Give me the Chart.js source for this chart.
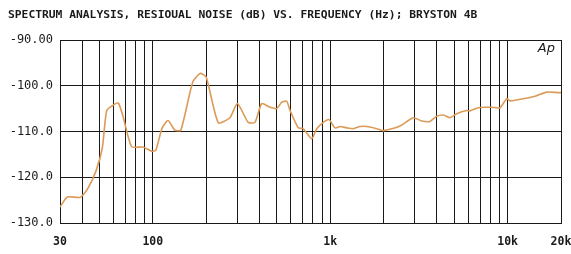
<!DOCTYPE html>
<html>
<head>
<meta charset="utf-8">
<script src="https://cdn.jsdelivr.net/npm/chart.js@4/dist/chart.umd.min.js"></script>
<style>
    html, body { margin: 0; padding: 0; background: #fff; }
    #wrap { width: 571px; height: 254px; position: relative; }
</style>
</head>
<body>
<div id="wrap"><canvas id="noise-chart"></canvas></div>
<script>
(function() {
    'use strict';

    const TITLE = 'SPECTRUM ANALYSIS, RESIOUAL NOISE (dB) VS. FREQUENCY (Hz); BRYSTON 4B';

    // frequency (Hz) and residual noise (dB)
    const freqs = [30, 33, 39, 43, 48, 52, 55, 60, 64, 68, 76, 88, 99, 104, 113, 122, 133, 144,
        168, 185, 200, 234, 272, 300, 345, 377, 411, 458, 499, 534, 569, 594, 661, 705, 787,
        840, 915, 985, 1065, 1136, 1240, 1350, 1473, 1677, 1910, 1993, 2223, 2476, 2940, 3280,
        3654, 3975, 4344, 4738, 5166, 5886, 6143, 6840, 7625, 8145, 9060, 9888, 10320, 12027,
        14280, 16620, 19320, 20000];
    const noiseDb = [-126.5, -124.3, -124.4, -122.5, -118.5, -113.5, -105.4, -104.2, -103.8, -106.7,
        -113.3, -113.4, -114.3, -114.1, -109.2, -107.6, -109.7, -109.7, -99.2, -97.3, -98.1,
        -108.1, -107.0, -103.9, -108.0, -108.0, -103.9, -104.7, -105.0, -103.6, -103.4, -105.4,
        -109.2, -109.4, -111.6, -109.4, -108.0, -107.4, -109.2, -108.9, -109.2, -109.4, -108.9,
        -109.0, -109.6, -109.8, -109.4, -108.8, -107.0, -107.7, -107.8, -106.7, -106.4, -107.0,
        -106.1, -105.4, -105.5, -104.8, -104.7, -104.7, -104.8, -102.8, -103.3, -102.9, -102.3,
        -101.4, -101.5, -101.5];

    // grid positions on the log axis, and which of them get a label
    const xGrid = [30, 40, 50, 60, 70, 80, 90, 100, 200, 300, 400, 500, 600, 700, 800, 900,
        1000, 2000, 3000, 4000, 5000, 6000, 7000, 8000, 9000, 10000, 20000];
    const xTickLabels = { 30: '30', 100: '100', 1000: '1k', 10000: '10k', 20000: '20k' };
    const yTicks = [-130, -120, -110, -100, -90];
    const yTickLabels = ['-130.0', '-120.0', '-110.0', '-100.0', '-90.00'];

    const INK = '#1a1a1a';
    const TRACE = '#dc9a56';

    const decorations = {
        id: 'decorations',
        afterDraw(chart) {
            const ctx = chart.ctx;
            const area = chart.chartArea;
            ctx.save();
            ctx.fillStyle = INK;
            ctx.textBaseline = 'middle';
            ctx.textAlign = 'left';
            ctx.font = 'bold 11.3px "DejaVu Sans Mono"';
            ctx.fillText(TITLE, 8, 15);
            ctx.font = 'italic 13px "DejaVu Sans"';
            ctx.textAlign = 'right';
            ctx.fillText('Ap', area.right - 6, area.top + 9);
            ctx.restore();
        },
    };

    function initChart() {
        const canvas = document.getElementById('noise-chart');
        const points = freqs.map((f, i) => ({ x: f, y: noiseDb[i] }));

        new Chart(canvas, {
            type: 'line',
            data: {
                datasets: [{
                    data: points,
                    borderColor: TRACE,
                    borderWidth: 1.6,
                    pointRadius: 0,
                    tension: 0.2,
                    fill: false,
                }],
            },
            options: {
                responsive: true,
                maintainAspectRatio: false,
                animation: false,
                layout: { padding: { top: 40, right: 10, left: 0, bottom: 0 } },
                plugins: { legend: { display: false }, tooltip: { enabled: false } },
                scales: {
                    x: {
                        type: 'logarithmic',
                        min: 30,
                        max: 20000,
                        afterBuildTicks: scale => {
                            scale.ticks = xGrid.map(v => ({ value: v }));
                        },
                        afterFit: scale => {
                            scale.height = 31;
                            scale.paddingLeft = 0;
                            scale.paddingRight = 0;
                        },
                        ticks: {
                            autoSkip: false,
                            maxRotation: 0,
                            padding: 12,
                            color: INK,
                            font: { family: '"DejaVu Sans Mono"', size: 11.5, weight: 'bold' },
                            callback: value => xTickLabels[value] || '',
                        },
                        grid: { color: INK, lineWidth: 1, drawTicks: false },
                        border: { color: INK, width: 1 },
                    },
                    y: {
                        min: -130,
                        max: -90,
                        afterBuildTicks: scale => {
                            scale.ticks = yTicks.map(v => ({ value: v }));
                        },
                        afterFit: scale => { scale.width = 60; },
                        ticks: {
                            padding: 7,
                            color: INK,
                            font: { family: '"DejaVu Sans Mono"', size: 12 },
                            callback: value => yTickLabels[yTicks.indexOf(value)],
                        },
                        grid: { color: INK, lineWidth: 1, drawTicks: false },
                        border: { color: INK, width: 1 },
                    },
                },
            },
            plugins: [decorations],
        });
    }

    if (document.readyState === 'loading') {
        document.addEventListener('DOMContentLoaded', initChart);
    } else {
        initChart();
    }
})();
</script>
</body>
</html>
